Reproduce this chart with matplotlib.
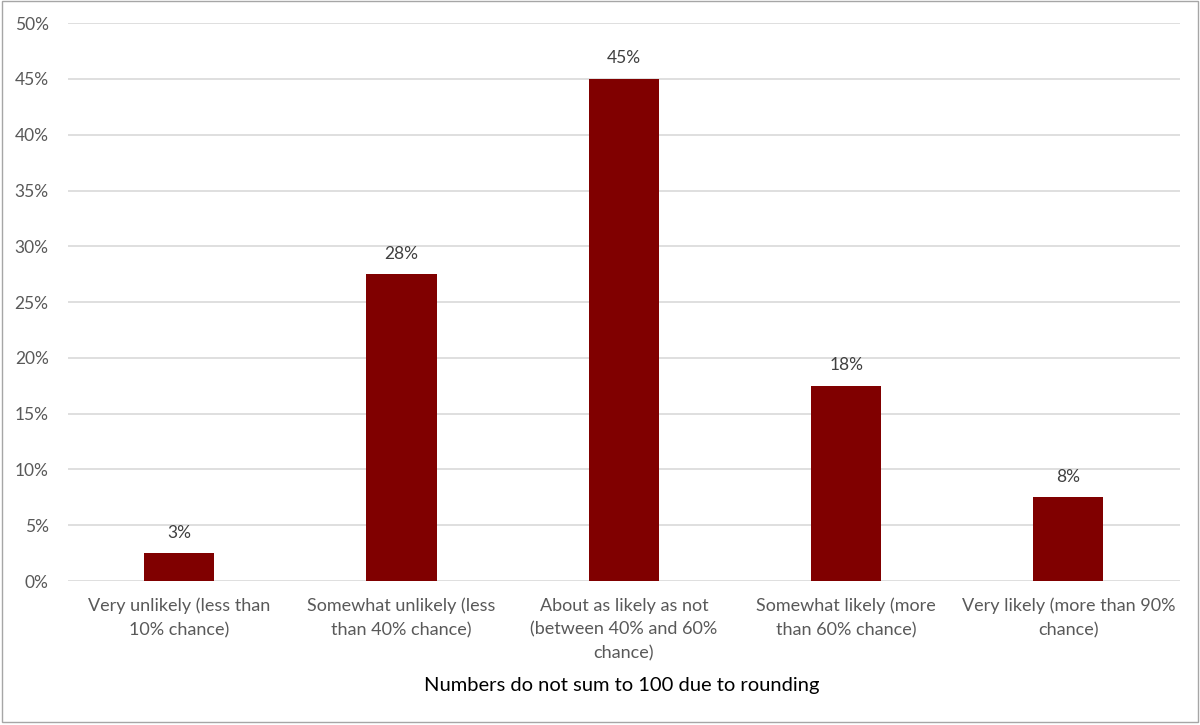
import math
import matplotlib
matplotlib.use("Agg")
import matplotlib.pyplot as plt
from matplotlib.patches import Rectangle

categories = [
    "Very unlikely (less than\n10% chance)",
    "Somewhat unlikely (less\nthan 40% chance)",
    "About as likely as not\n(between 40% and 60%\nchance)",
    "Somewhat likely (more\nthan 60% chance)",
    "Very likely (more than 90%\nchance)",
]
shares = [2.5, 27.5, 45.0, 17.5, 7.5]
y_ticks = [0, 5, 10, 15, 20, 25, 30, 35, 40, 45, 50]
footnote = "Numbers do not sum to 100 due to rounding"

plt.rcParams["font.family"] = ["Lato", "DejaVu Sans"]

fig = plt.figure(figsize=(12, 7.25), dpi=100)
ax = fig.add_axes([0.0567, 0.1986, 0.9263, 0.7694])

x = range(len(categories))
bars = ax.bar(x, shares, width=0.315, color="#800000", zorder=3)

for bar, v in zip(bars, shares):
    label = f"{math.floor(v + 0.5)}%"
    ax.annotate(label, (bar.get_x() + bar.get_width() / 2, v),
                xytext=(0, 9), textcoords="offset points",
                ha="center", va="bottom", fontsize=12.5, color="#404040")

ax.set_xlim(-0.5, len(categories) - 0.5)
ax.set_ylim(0, 50)
ax.set_yticks(y_ticks)
ax.set_yticklabels([f"{t}%" for t in y_ticks])
ax.set_xticks(list(x))
ax.set_xticklabels(categories, fontsize=13, color="#595959", linespacing=1.6)
ax.tick_params(axis="y", labelsize=12.5, labelcolor="#595959", length=0, pad=14)
ax.tick_params(axis="x", length=0, pad=12)

ax.grid(axis="y", color="#d9d9d9", linewidth=1.2, zorder=0)
for s in ax.spines.values():
    s.set_visible(False)

fig.text(0.518, 0.054, footnote, ha="center", va="center", fontsize=14.5, color="#000000")

# light frame around the chart area
fig.patches.append(Rectangle((0.002, 0.004), 0.996, 0.994, transform=fig.transFigure,
                             fill=False, edgecolor="#a6a6a6", linewidth=1.0))

fig.savefig("out.png", dpi=100, facecolor="white")
